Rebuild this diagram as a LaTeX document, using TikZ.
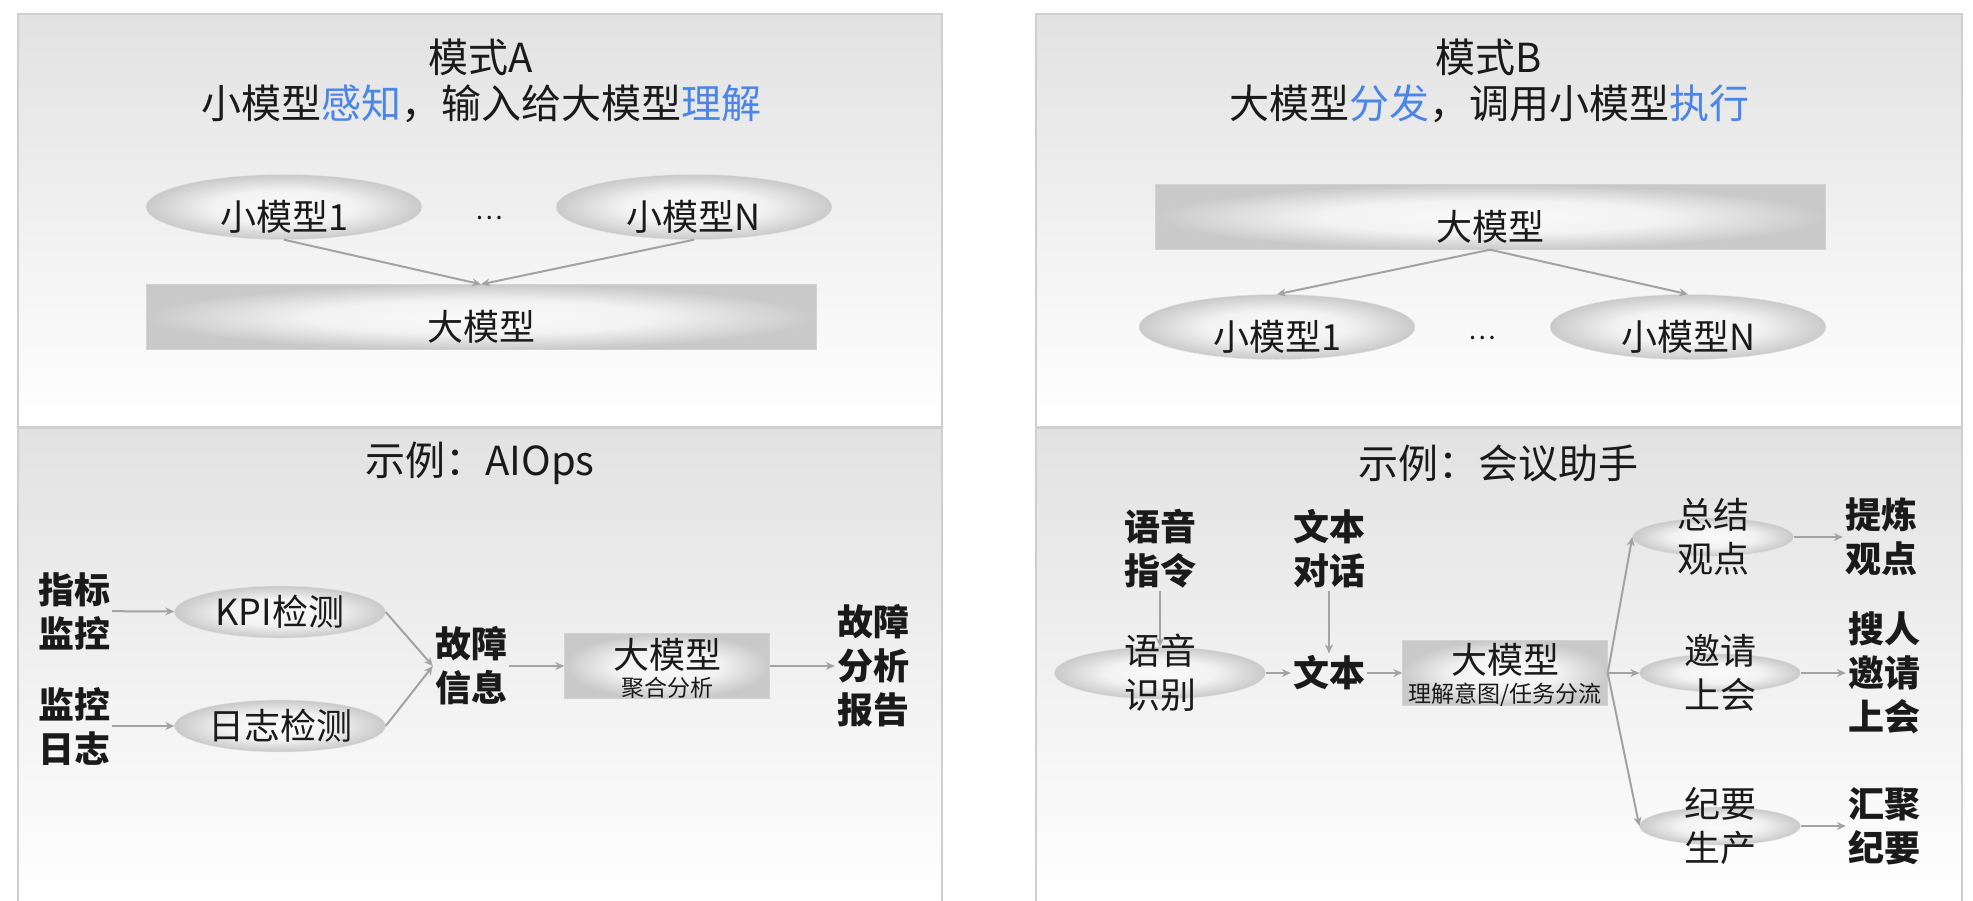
\documentclass[tikz,border=0pt]{standalone}
\usepackage{fontspec}
\setmainfont{Noto Sans CJK SC}
\usetikzlibrary{arrows.meta,shapes.geometric}
\definecolor{panelgray}{HTML}{E2E2E2}
\definecolor{linegray}{HTML}{CFCFCF}
\definecolor{arrowgray}{HTML}{A3A3A3}
\definecolor{hlblue}{HTML}{4A86E8}
\definecolor{ink}{HTML}{1A1A1A}
\pgfdeclareradialshading{glow}{\pgfpoint{0bp}{0bp}}{color(0bp)=(gray!4); color(13bp)=(gray!10); color(25bp)=(gray!42); color(50bp)=(gray!42)}

\begin{document}
\begin{tikzpicture}[x=1pt,y=-1pt,text=ink,
 panel/.style={draw=linegray,line width=1.2pt,top color=panelgray,bottom color=white},
 ttl/.style={font=\fontsize{40}{48}\selectfont},
 lab/.style={font=\fontsize{36}{44}\selectfont,align=center},
 key/.style={font=\bfseries\fontsize{36}{44}\selectfont,align=center,inner sep=2pt},
 sm/.style={ellipse,draw=gray!22,shading=glow,inner sep=0pt,minimum width=276pt,minimum height=65pt},
 det/.style={sm,minimum width=211pt,minimum height=52pt},
 br/.style={sm,minimum width=161pt,minimum height=38pt},
 big/.style={rectangle,draw=gray!35,shading=glow,minimum width=670pt,minimum height=65pt},
 llm/.style={big,minimum width=205pt},
 a/.style={-{Stealth[length=9pt,width=8pt]},draw=arrowgray,line width=2pt}]
\useasboundingbox[fill=white] (0,0) rectangle (1973,900);
% panels
\draw[panel] (18,14) rectangle (942,427);
\draw[panel] (1036,14) rectangle (1962,427);
\draw[panel] (18,428) rectangle (942,905);
\draw[panel] (1036,428) rectangle (1962,905);

% mode A
\node[ttl] (ta1) at (481,57) {模式A};
\node[ttl] (ta2) at (481,104) {小模型\textcolor{hlblue}{感知}，输入给大模型\textcolor{hlblue}{理解}};
\node[sm,label={[lab,yshift=-10pt]center:小模型1}] (sa1) at (284,207) {};
\node[sm,label={[lab,yshift=-10pt]center:小模型N}] (san) at (694,207) {};
\node[font=\fontsize{26}{26}\selectfont] (da) at (489,218) {…};
\node[big,label={[lab,yshift=-10pt]center:大模型}] (ba) at (481,317) {};
\draw[a] (sa1.south) -- (ba.north);
\draw[a] (san.south) -- (ba.north);

% mode B
\node[ttl] (tb1) at (1489,57) {模式B};
\node[ttl] (tb2) at (1489,104) {大模型\textcolor{hlblue}{分发}，调用小模型\textcolor{hlblue}{执行}};
\node[big,label={[lab,yshift=-10pt]center:大模型}] (bb) at (1490,217) {};
\node[sm,label={[lab,yshift=-10pt]center:小模型1}] (sb1) at (1277,327) {};
\node[sm,label={[lab,yshift=-10pt]center:小模型N}] (sbn) at (1688,327) {};
\node[font=\fontsize{26}{26}\selectfont] (db) at (1482,338) {…};
\draw[a] (bb.south) -- (sb1.north);
\draw[a] (bb.south) -- (sbn.north);

% AIOps
\node[ttl] (tc) at (480,463) {示例：AIOps};
\node[key] (kpi) at (74,611) {指标\\监控};
\node[key] (logs) at (74,726) {监控\\日志};
\node[det,label={[lab]center:KPI检测}] (dk) at (280,612) {};
\node[det,label={[lab]center:日志检测}] (dl) at (280,726) {};
\node[key] (info) at (471,666) {故障\\信息};
\node[llm] (la) at (667,666) {};
\node[lab] (la1) at (667,655) {大模型};
\node[font=\fontsize{23}{23}\selectfont] (la2) at (667,688) {聚合分析};
\node[key] (rep) at (873,666) {故障\\分析\\报告};
\draw[a] (kpi) -- (dk);
\draw[a] (logs) -- (dl);
\draw[a] (dk.east) -- (info.west);
\draw[a] (dl.east) -- (info.west);
\draw[a] (info) -- (la);
\draw[a] (la) -- (rep);

% meeting assistant
\node[ttl] (td) at (1498,463) {示例：会议助手};
\node[key] (voice) at (1160,549) {语音\\指令};
\node[key] (chat) at (1329,549) {文本\\对话};
\node[det,label={[lab]center:语音\\识别}] (asr) at (1160,673) {};
\node[key] (txt) at (1329,673) {文本};
\node[llm] (lb) at (1505,673) {};
\node[lab] (lb1) at (1505,660) {大模型};
\node[font=\fontsize{23}{23}\selectfont] (lb2) at (1505,695) {理解意图/任务分流};
\node[br,label={[lab]center:总结\\观点}] (sum) at (1713,537) {};
\node[br,label={[lab]center:邀请\\上会}] (inv) at (1720,673) {};
\node[br,label={[lab]center:纪要\\生产}] (mins) at (1720,826) {};
\node[key] (o1) at (1881,537) {提炼\\观点};
\node[key] (o2) at (1884,673) {搜人\\邀请\\上会};
\node[key] (o3) at (1884,826) {汇聚\\纪要};
\draw[a] (voice) -- (asr.north);
\draw[a] (chat) -- (txt);
\draw[a] (asr) -- (txt);
\draw[a] (txt) -- (lb);
\draw[a] (lb.east) -- (sum.west);
\draw[a] (lb.east) -- (inv.west);
\draw[a] (lb.east) -- (mins.west);
\draw[a] (sum) -- (o1);
\draw[a] (inv) -- (o2);
\draw[a] (mins) -- (o3);
\end{tikzpicture}
\end{document}
